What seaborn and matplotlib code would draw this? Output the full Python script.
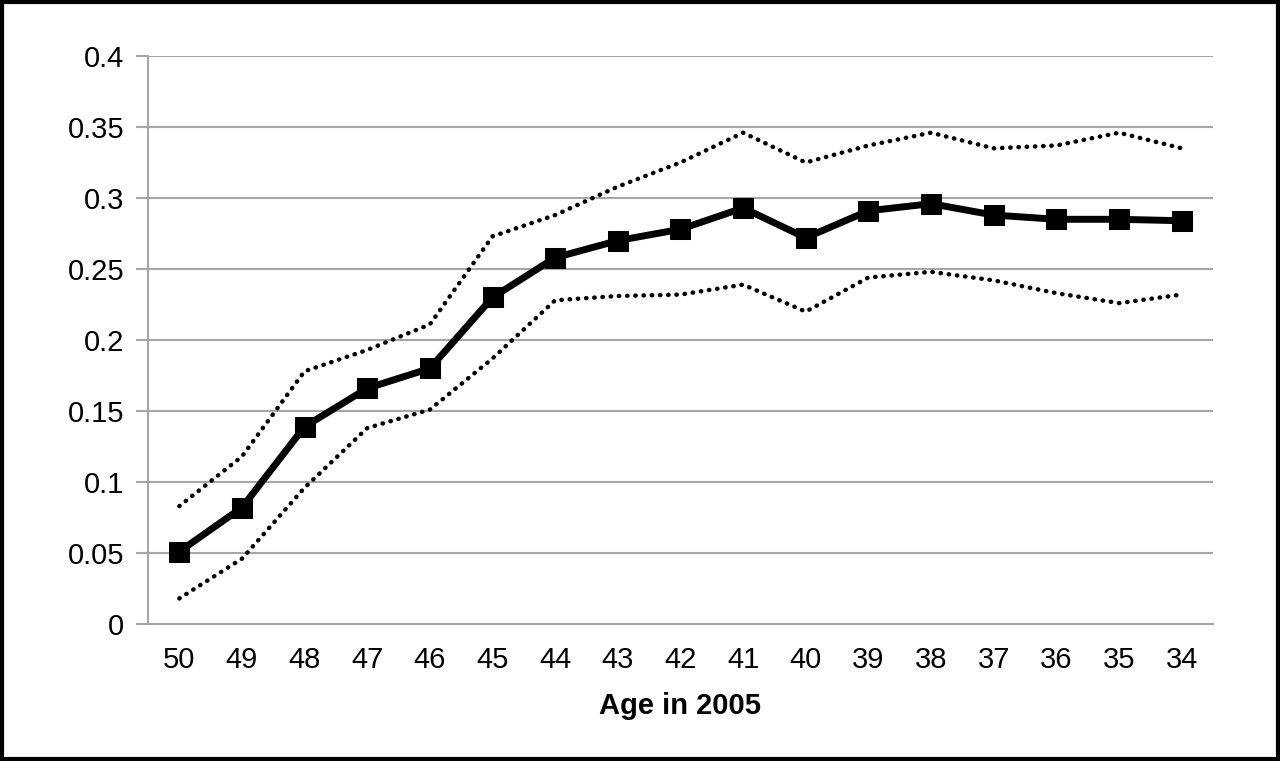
import pandas as pd
import matplotlib
matplotlib.use("Agg")
import matplotlib.pyplot as plt
import seaborn as sns

# Data
ages = [50, 49, 48, 47, 46, 45, 44, 43, 42, 41, 40, 39, 38, 37, 36, 35, 34]
estimate = [0.051, 0.082, 0.139, 0.166, 0.180, 0.230, 0.258, 0.270, 0.278, 0.293,
            0.272, 0.291, 0.296, 0.288, 0.285, 0.285, 0.284]
upper = [0.083, 0.118, 0.178, 0.193, 0.211, 0.273, 0.288, 0.308, 0.325, 0.346,
         0.325, 0.337, 0.346, 0.335, 0.337, 0.346, 0.335]
lower = [0.018, 0.046, 0.096, 0.138, 0.151, 0.187, 0.228, 0.231, 0.232, 0.239,
         0.220, 0.244, 0.248, 0.242, 0.233, 0.226, 0.232]
y_ticks = [0, 0.05, 0.1, 0.15, 0.2, 0.25, 0.3, 0.35, 0.4]
y_labels = ["0", "0.05", "0.1", "0.15", "0.2", "0.25", "0.3", "0.35", "0.4"]

df = pd.DataFrame({"pos": range(len(ages)), "age": ages,
                   "estimate": estimate, "upper": upper, "lower": lower})

sns.set_style("white")
plt.rcParams['font.family'] = ['Liberation Sans', 'DejaVu Sans']
plt.rcParams['text.color'] = 'black'
plt.rcParams['axes.labelcolor'] = 'black'
plt.rcParams['xtick.color'] = 'black'
plt.rcParams['ytick.color'] = 'black'

fig = plt.figure(figsize=(12.8, 7.61), dpi=100)
ax = fig.add_axes([0.1156, 0.18, 0.832, 0.7464])

grey = "#a6a6a6"
for y in y_ticks[1:]:
    ax.axhline(y, color=grey, linewidth=1.5, zorder=0)

# confidence bounds (dotted)
for col in ["upper", "lower"]:
    sns.lineplot(data=df, x="pos", y=col, ax=ax, color="black", linewidth=3.2,
                 linestyle=(0, (0.1, 1.75)), dash_capstyle="round", zorder=2)

# point estimate
sns.lineplot(data=df, x="pos", y="estimate", ax=ax, color="black", linewidth=5,
             marker="s", markersize=15, markeredgecolor="black", zorder=3)

ax.set_xlim(-0.5, len(ages) - 0.5)
ax.set_ylim(0, 0.4)
ax.set_yticks(y_ticks)
ax.set_yticklabels(y_labels, fontsize=21)
ax.set_xticks(range(len(ages)))
ax.set_xticklabels([str(a) for a in ages], fontsize=21)
ax.set_xticks([i - 0.5 for i in range(len(ages) + 1)], minor=True)
ax.tick_params(axis="x", which="major", length=0, pad=16)
ax.tick_params(axis="x", which="minor", length=9, width=1.5, color=grey)
ax.tick_params(axis="y", length=9, width=1.5, color=grey, labelcolor="black", pad=8, left=True)

ax.set_xlabel("Age in 2005", fontsize=21, fontweight="bold", labelpad=13)
ax.set_ylabel("")

for s in ["top", "right"]:
    ax.spines[s].set_visible(False)
for s in ["left", "bottom"]:
    ax.spines[s].set_color(grey)
    ax.spines[s].set_linewidth(1.5)

# black frame around the whole figure
fig.patches.append(plt.Rectangle((0.0015, 0.0025), 0.997, 0.995, transform=fig.transFigure,
                                 fill=False, edgecolor="black", linewidth=3))

plt.savefig("out.png", dpi=100)
